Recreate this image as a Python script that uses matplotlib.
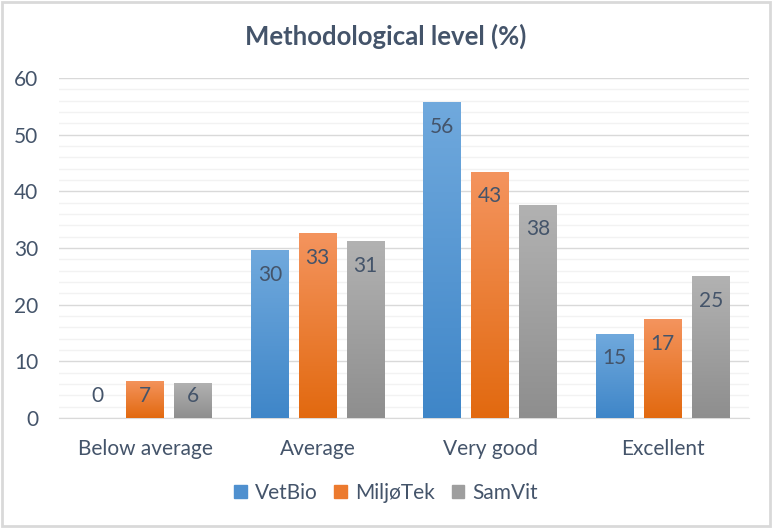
import matplotlib
matplotlib.use("Agg")
import matplotlib.pyplot as plt
import numpy as np
from matplotlib.patches import Rectangle
from matplotlib.colors import LinearSegmentedColormap

categories = ["Below average", "Average", "Very good", "Excellent"]
series = ["VetBio", "MiljøTek", "SamVit"]
vetbio = [0, 29.6, 55.7, 14.8]
miljotek = [6.6, 32.6, 43.4, 17.4]
samvit = [6.2, 31.2, 37.6, 25.0]
values = [vetbio, miljotek, samvit]
yticks = [0, 10, 20, 30, 40, 50, 60]

top_colors = ["#70A9DD", "#F4945E", "#B2B2B2"]
bot_colors = ["#3F86C8", "#E2690F", "#8E8E8E"]
legend_colors = ["#4F90CF", "#EC7A2E", "#9E9E9E"]
text_color = "#44546A"
font = "Lato"
fs = 15

fig = plt.figure(figsize=(7.72, 5.28), dpi=100)
ax = fig.add_axes([59/772, 110/528, 690/772, 340/528])

x = np.arange(len(categories))
width = 0.22
step = 0.278

for i, (s, vals) in enumerate(zip(series, values)):
    pos = x + (i - 1) * step
    bars = ax.bar(pos, vals, width, color=legend_colors[i], label=s, zorder=3, linewidth=0)
    cmap = LinearSegmentedColormap.from_list(s, [bot_colors[i], top_colors[i]])
    for b, v in zip(bars, vals):
        if v > 0:
            grad = np.linspace(0, 1, 256).reshape(-1, 1)
            im = ax.imshow(grad, cmap=cmap, origin="lower", aspect="auto",
                           extent=[b.get_x(), b.get_x() + b.get_width(), 0, v], zorder=4)
            im.set_clip_path(b)
        ly = max(v - 4.3, 3.9)
        ax.text(b.get_x() + b.get_width() / 2, ly, f"{v:.0f}", ha="center", va="center",
                fontsize=fs, color=text_color, family=font, zorder=5)

ax.set_xlim(-0.5, len(categories) - 0.5)
ax.set_ylim(0, 60)
ax.set_yticks(yticks)
ax.set_yticks(np.arange(0, 61, 2), minor=True)
ax.grid(axis="y", which="major", color="#D9D9D9", linewidth=1, zorder=0)
ax.grid(axis="y", which="minor", color="#F2F2F2", linewidth=1, zorder=0)
ax.tick_params(axis="y", which="both", length=0, pad=15, labelsize=fs, labelcolor=text_color)
ax.tick_params(axis="x", length=0, pad=15, labelsize=fs, labelcolor=text_color)
ax.set_xticks(x)
ax.set_xticklabels(categories)
for lab in ax.get_xticklabels() + ax.get_yticklabels():
    lab.set_family(font)
for sp in ["top", "left", "right"]:
    ax.spines[sp].set_visible(False)
ax.spines["bottom"].set_color("#D9D9D9")
ax.set_axisbelow(True)

fig.text(0.5, 1 - 36/528, "Methodological level (%)", ha="center", va="center",
         fontsize=18.5, fontweight="bold", color=text_color, family=font)

handles = [Rectangle((0, 0), 1, 1, color=c) for c in legend_colors]
leg = fig.legend(handles, series, loc="center", bbox_to_anchor=(0.5, 1 - 493/528), ncol=3,
                 frameon=False, handlelength=0.6, handleheight=0.6, handletextpad=0.4,
                 columnspacing=0.8, prop={"family": font, "size": fs})
for t in leg.get_texts():
    t.set_color(text_color)

fig.patches.append(Rectangle((0.002, 0.003), 0.996, 0.994, transform=fig.transFigure,
                             fill=False, edgecolor="#D9D9D9", linewidth=2))

fig.savefig("out.png", dpi=100, facecolor="white")
